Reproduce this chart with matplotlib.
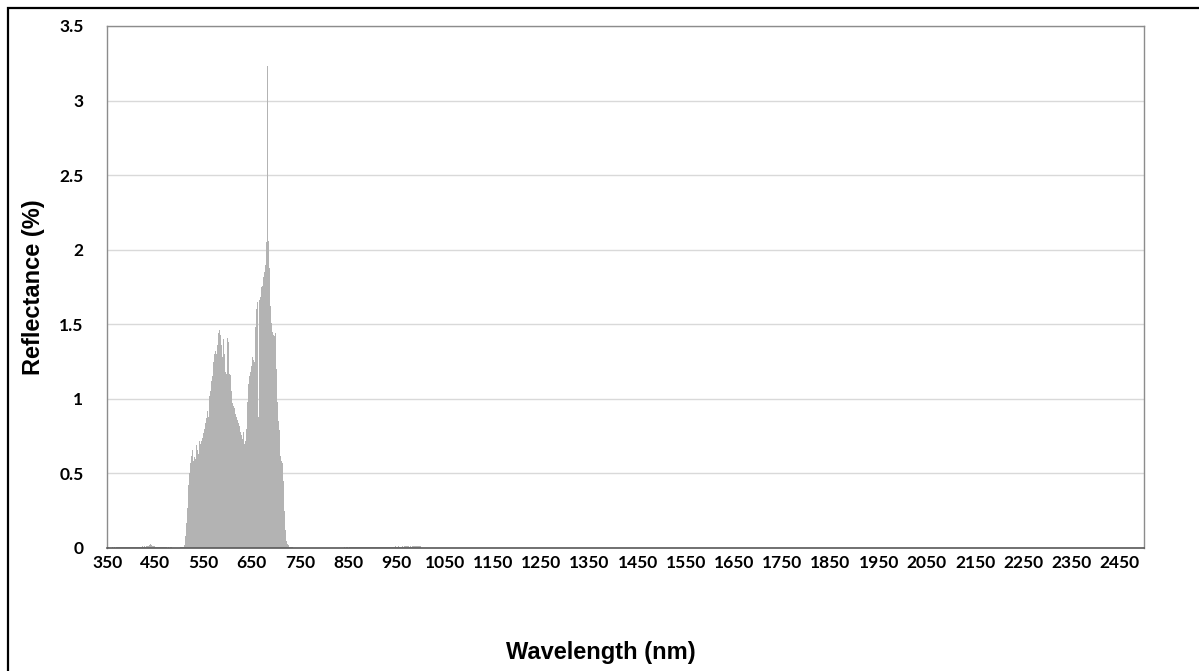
import numpy as np
import matplotlib
matplotlib.use("Agg")
import matplotlib.pyplot as plt
from matplotlib.patches import Rectangle

W, H = 1199, 671

# spectrometer output, one value per nm
wl_first, wl_last = 350, 2500

# 350-499 nm, in thousandths of a percent
blue_noise_milli = [
    2, 3, 2, 4, 3, 2, 5, 3, 4, 2, 3, 5, 4, 3, 2, 4, 6, 3, 4, 5,
    3, 4, 6, 5, 3, 4, 5, 7, 4, 3, 6, 5, 4, 7, 5, 3, 6, 4, 5, 8,
    6, 4, 5, 7, 6, 5, 8, 6, 4, 7, 5, 9, 6, 7, 5, 8, 6, 7, 9, 6,
    7, 5, 8, 6, 9, 7, 6, 10, 8, 7, 9, 6, 8, 11, 7, 9, 8, 12, 10, 9,
    12, 15, 11, 18, 14, 22, 16, 27, 19, 15, 24, 13, 17, 20, 12, 10, 14, 9, 11, 8,
    10, 7, 9, 8, 6, 9, 7, 8, 10, 6, 8, 7, 5, 9, 6, 7, 5, 8, 6, 4,
    6, 5, 7, 4, 6, 3, 5, 4, 6, 3, 4, 5, 3, 4, 2, 3, 4, 2, 3, 4,
    2, 3, 2, 4, 3, 2, 3, 2, 3, 2,
]

# 500-749 nm, in percent
visible_start = 500
visible = [
    0.003, 0.002, 0.004, 0.003, 0.004, 0.005, 0.004, 0.006, 0.008,             # 500
    0.01, 0.02, 0.04, 0.08, 0.12, 0.17, 0.22, 0.27, 0.32, 0.37,                # 509
    0.42, 0.46, 0.50, 0.53, 0.57, 0.60, 0.62, 0.64, 0.66,
    0.63, 0.58, 0.66, 0.61, 0.67, 0.60, 0.64, 0.69, 0.62, 0.66,                # 528
    0.71, 0.63, 0.68, 0.72, 0.65, 0.70, 0.74, 0.68,
    0.72, 0.78, 0.74, 0.80, 0.77, 0.83, 0.80, 0.86, 0.84, 0.90, 0.87, 0.95,    # 546
    0.92, 1.00, 0.88, 0.97, 1.02, 0.95, 1.05, 1.10,                            # 558
    1.12, 1.18, 1.15, 1.22, 1.25, 1.20, 1.30, 1.28, 1.35,                      # 566
    1.32, 1.38, 1.30, 1.42, 1.36, 1.40, 1.44, 1.34, 1.46,
    1.38, 1.43, 1.30, 1.36, 1.45, 1.28, 1.33, 1.40, 1.22, 1.30,                # 584
    1.26, 1.18, 1.35, 1.17, 1.20, 1.41, 1.16, 1.19, 1.38, 1.15,
    1.17, 1.30, 1.16, 1.12, 1.05, 1.00, 0.97,
    0.96, 0.95, 0.93, 0.94, 0.91, 0.90, 0.92, 0.88, 0.90, 0.86,                # 611
    0.87, 0.84, 0.86, 0.82, 0.80,
    0.78, 0.83, 0.76, 0.74, 0.81, 0.73, 0.72, 0.78, 0.71, 0.70,                # 626
    0.76, 0.72, 0.85, 0.80, 0.92,
    0.98, 1.05, 1.10, 1.20, 1.15, 1.25, 1.18, 1.27, 1.22, 1.24,                # 641
    1.28, 1.20, 1.26, 1.30, 1.25,
    1.32, 1.40, 1.48, 1.55, 1.60, 1.58, 1.65, 1.62, 0.88, 1.70,                # 656
    1.66, 1.73, 1.68, 1.72, 1.75,
    1.70, 1.76, 1.78, 1.82, 1.88, 1.85, 1.37, 1.90, 1.98, 2.05, 2.02,          # 671
    3.23, 2.71, 2.06, 2.00, 1.95,                                              # 682
    1.88, 1.75, 1.62, 1.55, 1.51, 0.88, 1.45, 1.40, 1.43, 1.38,                # 687
    1.42, 1.35, 1.44, 1.30,
    1.20, 1.05, 0.98, 0.92, 0.85, 0.80, 0.79, 0.68, 0.62, 0.66,                # 701
    0.58, 0.60, 0.68, 0.57, 0.55,
    0.45, 0.35, 0.25, 0.17, 0.12, 0.08, 0.05, 0.04, 0.03, 0.02,                # 716
    0.02, 0.015, 0.01, 0.01, 0.008,
    0.006, 0.005, 0.004, 0.004, 0.003, 0.003, 0.002, 0.002, 0.002, 0.001,      # 731
    0, 0, 0, 0, 0, 0, 0, 0, 0,
]

# 820-1000 nm, in thousandths of a percent
nir_start = 820
nir_noise_milli = [
    0, 0, 2, 0, 0, 3, 0, 0, 0, 2, 0, 0, 3, 0, 2, 0, 0, 3, 0, 4,
    3, 5, 4, 6, 3, 5, 7, 4, 6, 5, 3, 6, 8, 5, 4, 7, 5, 6, 4, 8,
    6, 5, 9, 6, 7, 4, 8, 5, 7, 6, 9, 5, 6, 8, 4, 7, 6, 5, 9, 6,
    7, 5, 8, 6, 10, 7, 5, 8, 6, 9, 7, 6, 8, 5, 7, 9, 6, 8, 5, 7,
    6, 8, 7, 5, 9, 6, 8, 7, 10, 6, 8, 5, 7, 9, 6, 8, 7, 6, 9, 7,
    8, 6, 9, 7, 5, 8, 10, 7, 6, 9, 8, 6, 7, 10, 8, 6, 9, 7, 8, 11,
    9, 7, 8, 10, 7, 9, 6, 8, 11, 9, 7, 10, 8, 9, 12, 8, 10, 9, 7, 11,
    10, 8, 12, 9, 11, 8, 10, 13, 9, 11, 10, 12, 9, 13, 10, 11, 12, 9, 14, 11,
    12, 10, 13, 11, 14, 12, 10, 13, 12, 15, 11, 13, 12, 14, 11, 13, 15, 12, 14, 13, 12,
]

x_tick_values = list(range(350, 2451, 100))
y_tick_values = [0, 0.5, 1, 1.5, 2, 2.5, 3, 3.5]
y_tick_labels = ["0", "0.5", "1", "1.5", "2", "2.5", "3", "3.5"]

wavelengths = np.arange(wl_first, wl_last + 1)
reflectance = np.zeros(len(wavelengths))
reflectance[0:len(blue_noise_milli)] = np.array(blue_noise_milli) / 1000.0
i = visible_start - wl_first
reflectance[i:i + len(visible)] = visible
i = nir_start - wl_first
reflectance[i:i + len(nir_noise_milli)] = np.array(nir_noise_milli) / 1000.0

fig = plt.figure(figsize=(W / 100, H / 100), dpi=100)
ax = fig.add_axes([107 / W, 1 - 548 / H, (1144 - 107) / W, (548 - 26) / H])

ax.bar(wavelengths, reflectance, width=1.0, color="#b3b3b3", linewidth=0)

ax.set_xlim(wl_first - 0.5, wl_last + 0.5)
ax.set_ylim(0, 3.5)
ax.set_xticks(x_tick_values)
ax.set_xticklabels([str(v) for v in x_tick_values])
ax.set_yticks(y_tick_values)
ax.set_yticklabels(y_tick_labels)
ax.grid(axis="y", color="#d9d9d9", linewidth=1)
ax.set_axisbelow(True)

ax.tick_params(length=0, labelsize=12.5)
ax.tick_params(axis="x", pad=5)
ax.tick_params(axis="y", pad=17)
for lbl in ax.get_xticklabels() + ax.get_yticklabels():
    lbl.set_fontfamily("Lato")
    lbl.set_fontweight("bold")

for side in ["top", "right", "left"]:
    ax.spines[side].set_color("#8c8c8c")
    ax.spines[side].set_linewidth(1)
ax.spines["bottom"].set_color("#595959")
ax.spines["bottom"].set_linewidth(1.2)

fig.text(34 / W, 1 - 287 / H, "Reflectance (%)", rotation=90, ha="center", va="center",
         fontsize=17, fontweight="bold", family="Liberation Sans")
fig.text(601 / W, 1 - 652 / H, "Wavelength (nm)", ha="center", va="center",
         fontsize=17, fontweight="bold", family="Liberation Sans")

# chart frame, cut off on the right and bottom
fig.patches.append(Rectangle((7.5 / W, -0.1), 1.2, 1.1 - 7.5 / H, transform=fig.transFigure,
                             fill=False, edgecolor="black", linewidth=1.6))

fig.savefig("out.png", dpi=100)
